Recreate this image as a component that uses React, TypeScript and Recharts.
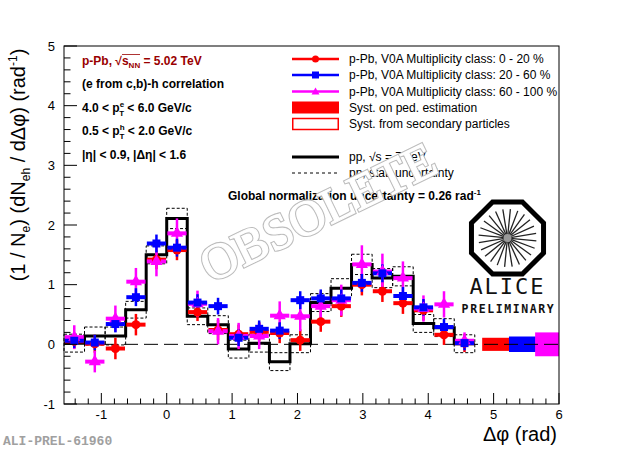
import React from "react";
import { ComposedChart, Line, Scatter, ErrorBar, XAxis, YAxis, ReferenceArea, ReferenceLine } from "recharts";

// Δφ bins (π/10 wide), edges and centres
const binEdges = [-1.571, -1.257, -0.942, -0.628, -0.314, 0, 0.314, 0.628, 0.942, 1.257, 1.571, 1.885, 2.199, 2.513, 2.827, 3.142, 3.456, 3.770, 4.084, 4.398, 4.712];
const binCenters = [-1.414, -1.100, -0.785, -0.471, -0.157, 0.157, 0.471, 0.785, 1.100, 1.414, 1.728, 2.042, 2.356, 2.670, 2.985, 3.299, 3.613, 3.927, 4.241, 4.555];

// pp reference, sqrt(s) = 7 TeV
const ppValues = [0.02, 0.14, 0.14, 0.58, 1.50, 2.11, 0.47, 0.33, -0.08, 0.02, -0.29, 0.01, 0.70, 0.94, 1.34, 1.11, 1.14, 0.35, 0.28, 0.01];
const ppErrors = [0.15, 0.15, 0.15, 0.14, 0.15, 0.17, 0.14, 0.15, 0.15, 0.15, 0.15, 0.15, 0.15, 0.16, 0.17, 0.16, 0.16, 0.15, 0.15, 0.15];

// p-Pb, V0A multiplicity classes
const cls0to20 = [0.05, 0.01, -0.07, 0.33, 1.42, 1.58, 0.54, 0.24, 0.17, 0.21, 0.19, 0.07, 0.38, 0.64, 1.00, 0.89, 0.69, 0.57, 0.16, 0.02];
const cls0to20Err = [0.12, 0.15, 0.18, 0.18, 0.16, 0.17, 0.15, 0.17, 0.16, 0.16, 0.17, 0.18, 0.17, 0.18, 0.18, 0.18, 0.18, 0.17, 0.17, 0.15];
const cls20to60 = [0.06, 0.03, 0.34, 0.79, 1.69, 1.62, 0.70, 0.64, 0.11, 0.26, 0.23, 0.74, 0.77, 0.77, 1.03, 1.19, 0.81, 0.62, 0.29, 0.02];
const cls20to60Err = [0.12, 0.13, 0.14, 0.15, 0.15, 0.15, 0.14, 0.14, 0.14, 0.14, 0.14, 0.15, 0.15, 0.15, 0.15, 0.15, 0.15, 0.14, 0.14, 0.12];
const cls60to100 = [0.12, -0.29, 0.43, 1.05, 1.39, 1.86, 0.68, 0.22, 0.14, 0.14, 0.48, 0.47, 0.64, 0.74, 1.34, 1.22, 1.11, 0.60, 0.67, 0.06];
const cls60to100Err = [0.20, 0.18, 0.22, 0.23, 0.25, 0.25, 0.22, 0.22, 0.22, 0.22, 0.24, 0.25, 0.25, 0.26, 0.32, 0.30, 0.28, 0.22, 0.22, 0.14];

// pedestal systematics boxes drawn at the right
const sysCenters = [5.03, 5.44, 5.84];
const sysHalfHeights = [0.11, 0.13, 0.2];
const sysHalfWidth = 0.205;

const xMajorTicks = [-1, 0, 1, 2, 3, 4, 5, 6];
const yMajorTicks = [-1, 0, 1, 2, 3, 4, 5];

const W = 623;
const H = 451;
const PLOT = { left: 64, top: 46, right: 559, bottom: 404 };
const X_AXIS_H = 30;
const Y_AXIS_W = 40;
const FONT = "'Liberation Sans', Arial, Helvetica, sans-serif";

const RED = "#ff0000";
const BLUE = "#0000ff";
const MAGENTA = "#ff00ff";

function minorTicks(from: number, to: number) {
  const out: number[] = [];
  for (let i = Math.round(from * 5); i <= Math.round(to * 5); i++) out.push(i / 5);
  return out;
}
const xTicks = minorTicks(-1.4, 6);
const yTicks = minorTicks(-1, 5);

const isMajor = (v: number) => Math.abs(v - Math.round(v)) < 1e-6;

function XTick(props: any) {
  const { x, y, payload } = props;
  const v = payload.value;
  const major = isMajor(v);
  return (
    <g>
      <line x1={x} x2={x} y1={y} y2={y - (major ? 11 : 5.5)} stroke="#000" strokeWidth={1} />
      {major && xMajorTicks.includes(Math.round(v)) && (
        <text x={x} y={y + 15} textAnchor="middle" fontSize={13} fontFamily={FONT} fill="#000">
          {Math.round(v)}
        </text>
      )}
    </g>
  );
}

function YTick(props: any) {
  const { x, y, payload } = props;
  const v = payload.value;
  const major = isMajor(v);
  return (
    <g>
      <line x1={x} x2={x + (major ? 13 : 6.5)} y1={y} y2={y} stroke="#000" strokeWidth={1} />
      {major && yMajorTicks.includes(Math.round(v)) && (
        <text x={x - 9} y={y + 4.5} textAnchor="end" fontSize={13} fontFamily={FONT} fill="#000">
          {Math.round(v)}
        </text>
      )}
    </g>
  );
}

const ppStep = binEdges.map((e, i) => ({ x: e, y: ppValues[Math.min(i, ppValues.length - 1)] }));
const halfWidths = binCenters.map((_, i) => (binEdges[i + 1] - binEdges[i]) / 2 - 0.01);
const makePoints = (vals: number[], errs: number[]) =>
  binCenters.map((x, i) => ({ x, y: vals[i], ey: errs[i], ex: halfWidths[i] }));

const redPts = makePoints(cls0to20, cls0to20Err);
const bluePts = makePoints(cls20to60, cls20to60Err);
const magPts = makePoints(cls60to100, cls60to100Err);
const sysColors = [RED, BLUE, MAGENTA];

function Series({ data, color, shape }: { data: any[]; color: string; shape: any }) {
  return (
    <Scatter data={data} dataKey="y" fill={color} shape={shape} legendType="none" isAnimationActive={false}>
      <ErrorBar dataKey="ey" direction="y" width={0} stroke={color} strokeWidth={2.5} isAnimationActive={false} />
      <ErrorBar dataKey="ex" direction="x" width={0} stroke={color} strokeWidth={4} isAnimationActive={false} />
    </Scatter>
  );
}

function Overlay() {
  const legendX = 292;
  const legendTextX = 349;
  const rows = [59, 75, 91.5, 107.5, 124, 157, 173];
  // ALICE logo geometry
  const lc = { x: 507.5, y: 238 };
  const octR = 39;
  const oct = Array.from({ length: 8 }, (_, k) => {
    const a = (Math.PI / 8) * (2 * k + 1);
    return `${lc.x + octR * Math.cos(a)},${lc.y + octR * Math.sin(a)}`;
  }).join(" ");
  const spokes = Array.from({ length: 24 }, (_, k) => {
    const a = (Math.PI / 12) * k + 0.1;
    return (
      <line
        key={k}
        x1={lc.x + 3 * Math.cos(a)}
        y1={lc.y + 3 * Math.sin(a)}
        x2={lc.x + 29 * Math.cos(a)}
        y2={lc.y + 29 * Math.sin(a)}
        stroke="#222"
        strokeWidth={1.3}
      />
    );
  });
  return (
    <svg width={W} height={H} style={{ position: "absolute", left: 0, top: 0, pointerEvents: "none" }}>
      {/* frame */}
      <rect x={PLOT.left} y={PLOT.top} width={PLOT.right - PLOT.left} height={PLOT.bottom - PLOT.top} fill="none" stroke="#000" strokeWidth={1} />

      {/* axis titles */}
      <text transform="translate(25,165) rotate(-90)" textAnchor="middle" fontSize={20} fontFamily={FONT} fill="#000">
        (1 / N<tspan fontSize={12} dy={5}>e</tspan>
        <tspan dy={-5}>) (dN</tspan>
        <tspan fontSize={12} dy={5}>eh</tspan>
        <tspan dy={-5}> / dΔφ) (rad</tspan>
        <tspan fontSize={12} dy={-8}>-1</tspan>
        <tspan dy={8}>)</tspan>
      </text>
      <text x={557} y={441} textAnchor="end" fontSize={20} fontFamily={FONT} fill="#000">
        Δφ (rad)
      </text>

      {/* info block */}
      <g fontFamily={FONT} fontWeight="bold" fontSize={12} fill="#000">
        <text x={82} y={65} fill="#990000">
          p-Pb, √<tspan>s</tspan>
          <tspan fontSize={8} dy={3}>NN</tspan>
          <tspan dy={-3}> = 5.02 TeV</tspan>
        </text>
        <line x1={122} x2={140} y1={54.5} y2={54.5} stroke="#990000" strokeWidth={0.8} />
        <text x={82} y={88}>(e from c,b)-h correlation</text>
        <text x={82} y={112}>
          4.0 &lt; p<tspan fontSize={8} dy={-5}>e</tspan>
          <tspan fontSize={8} dx={-5} dy={9}>T</tspan>
          <tspan dy={-4}> &lt; 6.0 GeV/c</tspan>
        </text>
        <text x={82} y={135}>
          0.5 &lt; p<tspan fontSize={8} dy={-5}>h</tspan>
          <tspan fontSize={8} dx={-5} dy={9}>T</tspan>
          <tspan dy={-4}> &lt; 2.0 GeV/c</tspan>
        </text>
        <text x={82} y={159}>|η| &lt; 0.9, |Δη| &lt; 1.6</text>
      </g>

      {/* legend */}
      <g fontFamily={FONT} fontSize={12} fill="#000">
        <line x1={legendX} x2={legendX + 47} y1={rows[0]} y2={rows[0]} stroke={RED} strokeWidth={2.5} />
        <circle cx={legendX + 23.5} cy={rows[0]} r={3.5} fill={RED} />
        <text x={legendTextX} y={rows[0] + 4}>p-Pb, V0A Multiplicity class: 0 - 20 %</text>
        <line x1={legendX} x2={legendX + 47} y1={rows[1]} y2={rows[1]} stroke={BLUE} strokeWidth={2.5} />
        <rect x={legendX + 20} y={rows[1] - 3.5} width={7} height={7} fill={BLUE} />
        <text x={legendTextX} y={rows[1] + 4}>p-Pb, V0A Multiplicity class: 20 - 60 %</text>
        <line x1={legendX} x2={legendX + 47} y1={rows[2]} y2={rows[2]} stroke={MAGENTA} strokeWidth={2.5} />
        <polygon points={`${legendX + 23.5},${rows[2] - 4} ${legendX + 27.5},${rows[2] + 3} ${legendX + 19.5},${rows[2] + 3}`} fill={MAGENTA} />
        <text x={legendTextX} y={rows[2] + 4}>p-Pb, V0A Multiplicity class: 60 - 100 %</text>
        <rect x={legendX} y={rows[3] - 6} width={47} height={12} fill={RED} />
        <text x={legendTextX} y={rows[3] + 4}>Syst. on ped. estimation</text>
        <rect x={legendX + 0.75} y={rows[4] - 5.5} width={45.5} height={11} fill="none" stroke={RED} strokeWidth={1.5} />
        <text x={legendTextX} y={rows[4] + 4}>Syst. from secondary particles</text>
        <line x1={legendX} x2={legendX + 47} y1={rows[5]} y2={rows[5]} stroke="#000" strokeWidth={3} />
        <text x={legendTextX} y={rows[5] + 4}>pp, √s = 7 TeV</text>
        <line x1={legendX} x2={legendX + 47} y1={rows[6]} y2={rows[6]} stroke="#000" strokeWidth={1} strokeDasharray="3 3" />
        <text x={legendTextX} y={rows[6] + 4}>pp, stat. uncertainty</text>
        <text x={228} y={200} fontWeight="bold">
          Global normalization uncertainty = 0.26 rad<tspan fontSize={8} dy={-5}>-1</tspan>
        </text>
      </g>

      {/* ALICE preliminary logo */}
      <polygon points={oct} fill="#fff" stroke="#000" strokeWidth={5} />
      {spokes}
      <circle cx={lc.x} cy={lc.y} r={4} fill="#999" />
      <text x={lc.x} y={294} textAnchor="middle" fontSize={22} letterSpacing={2} fontFamily="'DejaVu Sans Mono', monospace" fill="#111">
        ALICE
      </text>
      <text x={lc.x + 1} y={313} textAnchor="middle" fontSize={11.5} fontWeight="bold" letterSpacing={1.6} fontFamily="'DejaVu Sans Mono', monospace" fill="#111">
        PRELIMINARY
      </text>

      {/* watermark */}
      <g transform="translate(318,212) rotate(-26)" fontFamily="'Liberation Serif', serif" fontSize={50} textAnchor="middle">
        <text y={17} fill="#fff" stroke="#bdbdbd" strokeWidth={3.2}>OBSOLETE</text>
        <text y={17} fill="#fff" stroke="#fff" strokeWidth={1}>OBSOLETE</text>
      </g>

      <text x={3} y={445} fontSize={13} fontWeight="bold" fontFamily="'Liberation Mono', 'DejaVu Sans Mono', monospace" fill="#a0a0a0">
        ALI-PREL-61960
      </text>
    </svg>
  );
}

export default function App() {
  return (
    <div style={{ position: "absolute", left: 0, top: 0, width: W, height: H, background: "#fff" }}>
      <ComposedChart
        width={W}
        height={H}
        margin={{ top: PLOT.top, right: W - PLOT.right, bottom: H - PLOT.bottom - X_AXIS_H, left: PLOT.left - Y_AXIS_W }}
      >
        <XAxis
          type="number"
          dataKey="x"
          domain={[-1.571, 6]}
          allowDataOverflow
          ticks={xTicks}
          interval={0}
          tick={<XTick />}
          tickLine={false}
          axisLine={false}
          tickSize={0}
          tickMargin={0}
          height={X_AXIS_H}
        />
        <YAxis
          type="number"
          domain={[-1, 5]}
          allowDataOverflow
          ticks={yTicks}
          interval={0}
          tick={<YTick />}
          tickLine={false}
          axisLine={false}
          tickSize={0}
          tickMargin={0}
          width={Y_AXIS_W}
        />
        <ReferenceLine y={0} stroke="#000" strokeWidth={1} strokeDasharray="14 6" />
        {ppValues.map((v, i) => (
          <ReferenceArea
            key={`pp${i}`}
            x1={binEdges[i]}
            x2={binEdges[i + 1]}
            y1={v - ppErrors[i]}
            y2={v + ppErrors[i]}
            fill="none"
            fillOpacity={0}
            stroke="#000"
            strokeWidth={1}
            strokeDasharray="3 2"
          />
        ))}
        {sysCenters.map((c, i) => (
          <ReferenceArea
            key={`sys${i}`}
            x1={c - sysHalfWidth}
            x2={c + sysHalfWidth}
            y1={-sysHalfHeights[i]}
            y2={sysHalfHeights[i]}
            fill={sysColors[i]}
            fillOpacity={1}
            stroke="none"
            ifOverflow="hidden"
          />
        ))}
        <Line
          data={ppStep}
          dataKey="y"
          type="stepAfter"
          stroke="#000"
          strokeWidth={3}
          dot={false}
          isAnimationActive={false}
        />
        {Series({ data: redPts, color: RED, shape: "circle" })}
        {Series({ data: magPts, color: MAGENTA, shape: "triangle" })}
        {Series({ data: bluePts, color: BLUE, shape: "square" })}
      </ComposedChart>
      <Overlay />
    </div>
  );
}
